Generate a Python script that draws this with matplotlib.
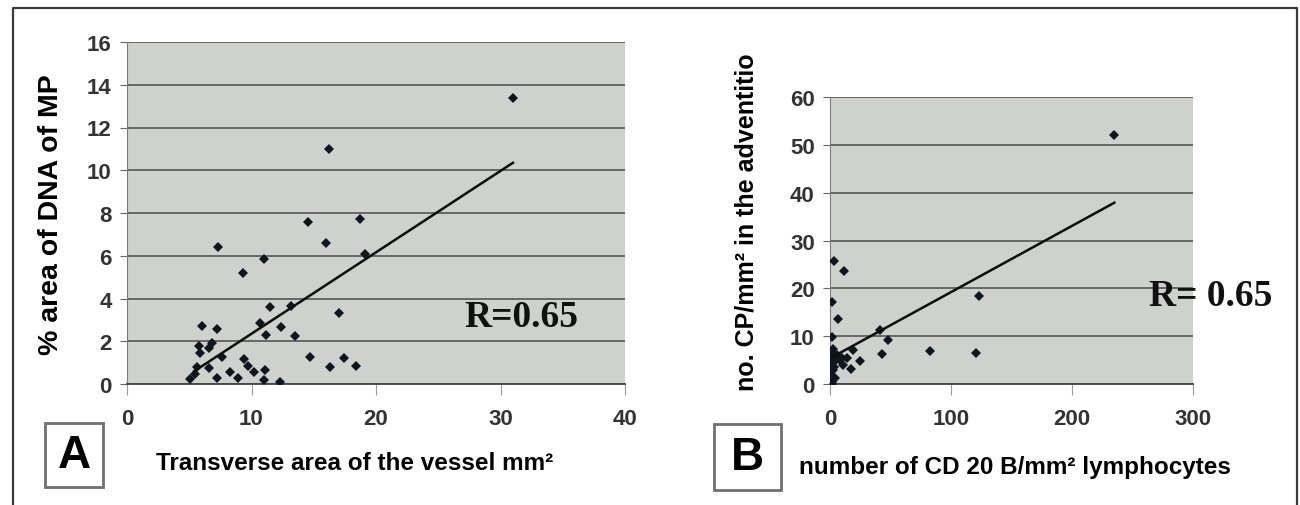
import matplotlib
matplotlib.use("Agg")
import matplotlib.pyplot as plt
from matplotlib.lines import Line2D
from matplotlib.patches import Rectangle

# Panel A: transverse area of the vessel vs % area of DNA of MP
vessel_area = [31.0, 16.2, 14.5, 18.7, 16.0, 19.1, 7.3, 11.0, 9.3, 11.5,
               13.2, 17.0, 10.7, 12.4, 11.2, 13.5, 14.7, 17.4, 16.3, 18.4,
               6.0, 7.2, 5.75, 6.8, 6.6, 5.9, 7.6, 5.6, 6.6, 5.1,
               5.5, 7.2, 8.3, 8.9, 9.4, 9.7, 10.2, 11.1, 11.0, 12.3]
dna_area = [13.4, 11.0, 7.6, 7.7, 6.6, 6.1, 6.4, 5.85, 5.2, 3.6,
            3.65, 3.3, 2.85, 2.65, 2.3, 2.25, 1.25, 1.2, 0.8, 0.85,
            2.7, 2.55, 1.8, 1.9, 1.7, 1.45, 1.25, 0.8, 0.75, 0.25,
            0.45, 0.3, 0.55, 0.3, 1.15, 0.85, 0.55, 0.65, 0.2, 0.1]
trend_a_x = [5.4, 31.0]
trend_a_y = [0.6, 10.35]

# Panel B: CD20 B lymphocytes vs CP in the adventitia
cd20_count = [235, 123, 83, 121, 43, 48, 41, 25, 17, 19,
              3.0, 11.5, 1.9, 6.8, 1.9, 2.7, 1.3, 5.5, 9.6, 13.7,
              4.1, 11.0, 0.8, 2.7, 0.8, 4.1, 1.3, 1.3, 8.2, 0.5,
              3.5, 0.5]
cp_count = [52.1, 18.4, 7.0, 6.5, 6.2, 9.2, 11.3, 4.8, 3.1, 7.1,
            25.7, 23.7, 17.1, 13.5, 9.9, 7.3, 6.4, 6.0, 5.5, 5.4,
            4.8, 4.0, 4.0, 2.9, 1.9, 1.2, 0.5, 0.1, 5.0, 5.5,
            3.5, 2.8]
trend_b_x = [1.7, 235.0]
trend_b_y = [5.6, 37.9]

xticks_a = [0, 10, 20, 30, 40]
yticks_a = [0, 2, 4, 6, 8, 10, 12, 14, 16]
xticks_b = [0, 100, 200, 300]
yticks_b = [0, 10, 20, 30, 40, 50, 60]

W, H = 1300, 506
SANS = ['Liberation Sans', 'DejaVu Sans']
SERIF = ['Liberation Serif', 'DejaVu Serif']

fig = plt.figure(figsize=(W / 100, H / 100), dpi=100)


def px_axes(left, top, right, bottom):
    return fig.add_axes([left / W, 1 - bottom / H, (right - left) / W, (bottom - top) / H])


def draw_panel(ax, x, y, tx, ty, xticks, yticks):
    ax.set_facecolor('#cfd1cf')
    ax.plot(x, y, 'D', ms=5, color='#11151c', mew=0, zorder=3)
    ax.plot(tx, ty, color='#0d0d0d', lw=1.8, zorder=4)
    ax.set_xlim(xticks[0], xticks[-1])
    ax.set_ylim(yticks[0], yticks[-1])
    ax.set_xticks(xticks)
    ax.set_yticks(yticks)
    ax.yaxis.grid(True, color='#555555', lw=1.2)
    ax.set_axisbelow(True)
    for s in ['top', 'right']:
        ax.spines[s].set_visible(False)
    ax.spines['left'].set_color('#7a7a7a')
    ax.spines['bottom'].set_color('#444444')
    ax.spines['bottom'].set_linewidth(1.3)
    ax.tick_params(axis='y', length=5, color='#666666', pad=6,
                   labelsize=16, labelcolor='#333333')
    ax.tick_params(axis='x', length=8, color='#999999', pad=9,
                   labelsize=16, labelcolor='#333333')
    for lbl in ax.get_xticklabels() + ax.get_yticklabels():
        lbl.set_fontweight('bold')
        lbl.set_family(SANS)


ax_a = px_axes(127, 43, 625, 385)
draw_panel(ax_a, vessel_area, dna_area, trend_a_x, trend_a_y, xticks_a, yticks_a)
ax_a.text(27.1, 3.15, 'R=0.65', family=SERIF, weight='bold', fontsize=27,
          ha='left', va='center', color='#111111')

ax_b = px_axes(830, 98, 1193, 385)
draw_panel(ax_b, cd20_count, cp_count, trend_b_x, trend_b_y, xticks_b, yticks_b)
ax_b.text(264, 18.6, 'R= 0.65', family=SERIF, weight='bold', fontsize=27,
          ha='left', va='center', color='#111111', clip_on=False)

# axis titles
fig.text(51 / W, 1 - 215 / H, '% area of DNA of MP', rotation=90, family=SANS,
         weight='bold', fontsize=20.5, ha='center', va='center')
fig.text(747 / W, 1 - 222 / H, 'no. CP/mm² in the adventitio', rotation=90,
         family=SANS, weight='bold', fontsize=18, ha='center', va='center')
fig.text(355 / W, 1 - 464 / H, 'Transverse area of the vessel mm²', family=SANS,
         weight='bold', fontsize=17.5, ha='center', va='center')
fig.text(1015 / W, 1 - 468 / H, 'number of CD 20 B/mm² lymphocytes', family=SANS,
         weight='bold', fontsize=17.5, ha='center', va='center')

# panel letters in boxes
for (l, t, r, b), letter in [((45, 424, 103, 488), 'A'), ((714, 425, 781, 491), 'B')]:
    fig.patches.append(Rectangle((l / W, 1 - b / H), (r - l) / W, (b - t) / H,
                                 transform=fig.transFigure, facecolor='white',
                                 edgecolor='#707070', lw=2))
    fig.text((l + r) / 2 / W, 1 - (t + b) / 2 / H, letter, family=SANS,
             weight='bold', fontsize=33, ha='center', va='center')

# outer frame (open at the bottom)
frame_x = [13 / W, 13 / W, 1297 / W, 1297 / W]
frame_y = [0, 1 - 9 / H, 1 - 9 / H, 0]
fig.lines.append(Line2D(frame_x, frame_y, transform=fig.transFigure,
                        color='#3c3c3c', lw=1.6))

fig.savefig('out.png', dpi=100)
